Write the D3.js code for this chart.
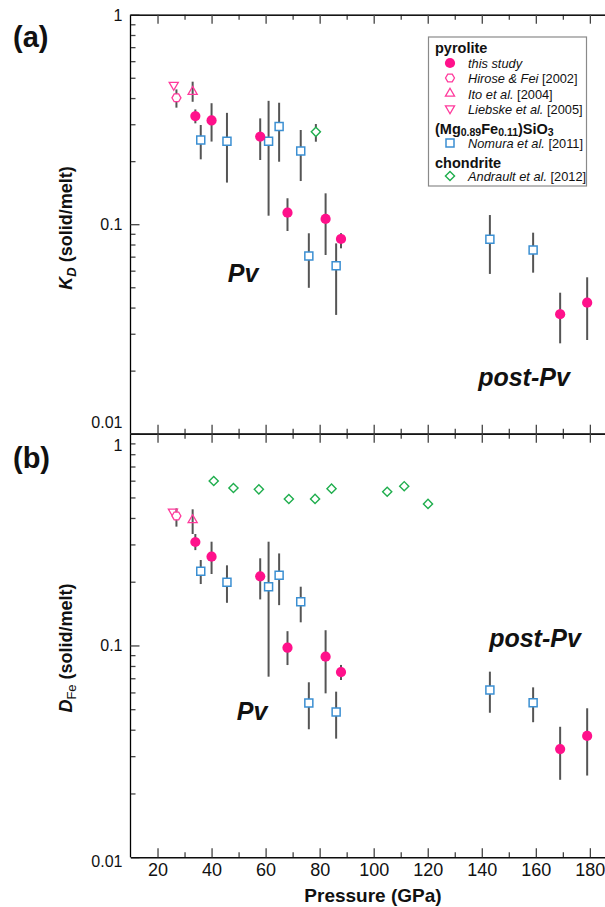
<!DOCTYPE html>
<html>
<head>
<meta charset="utf-8">
<script src="https://cdn.jsdelivr.net/npm/d3@7"></script>
<style>
  body { margin: 0; background: #fff; }
  svg { display: block; font-family: "Liberation Sans", Arial, Helvetica, sans-serif; }
</style>
</head>
<body>
<svg id="chart" width="605" height="907"></svg>
<script>
// ---------- data ----------
// pyrolite, this study (filled circles)
const thisStudyP    = [34, 40, 58, 68.1, 82.2, 87.9, 169, 179];
const thisStudyKd   = [0.328, 0.313, 0.262, 0.1135, 0.106, 0.085, 0.0372, 0.0422];
const thisStudyKdLo = [0.303, 0.248, 0.2025, 0.0928, 0.0713, 0.0767, 0.027, 0.028];
const thisStudyKdHi = [0.353, 0.378, 0.320, 0.133, 0.1404, 0.0906, 0.0471, 0.0558];
const thisStudyD    = [0.308, 0.2625, 0.212, 0.0976, 0.0885, 0.0749, 0.0324, 0.0374];
const thisStudyDLo  = [0.282, 0.2175, 0.165, 0.0808, 0.0594, 0.0687, 0.0232, 0.0243];
const thisStudyDHi  = [0.336, 0.309, 0.258, 0.1168, 0.118, 0.0809, 0.0413, 0.0505];

// pyrolite, earlier studies
const hiroseP = [27], hiroseKd = [0.401], hiroseKdLo = [0.36], hiroseKdHi = [0.44];
const hiroseD = [0.409], hiroseDLo = [0.364], hiroseDHi = [0.444];
const itoP = [33], itoKd = [0.429], itoKdLo = [0.384], itoKdHi = [0.479];
const itoD = [0.391], itoDLo = [0.336], itoDHi = [0.4395];
const liebskeKdP = [26], liebskeKd = [0.462];
const liebskeDP = [25.7], liebskeD = [0.428];

// (Mg0.89Fe0.11)SiO3, Nomura et al. (open squares)
const nomuraP    = [36, 45.7, 61.1, 65, 73, 76, 86.1, 143, 159];
const nomuraKd   = [0.252, 0.249, 0.249, 0.293, 0.2236, 0.0705, 0.0634, 0.0847, 0.0753];
const nomuraKdLo = [0.204, 0.158, 0.1098, 0.1987, 0.1607, 0.0497, 0.0369, 0.0579, 0.0587];
const nomuraKdHi = [0.2975, 0.340, 0.388, 0.380, 0.2816, 0.0905, 0.081, 0.1106, 0.0911];
const nomuraD    = [0.224, 0.1987, 0.1895, 0.2145, 0.161, 0.0535, 0.0485, 0.0616, 0.0537];
const nomuraDLo  = [0.195, 0.159, 0.0712, 0.155, 0.1286, 0.0402, 0.0363, 0.0481, 0.0434];
const nomuraDHi  = [0.2532, 0.239, 0.309, 0.272, 0.1894, 0.067, 0.0605, 0.0752, 0.0634];

// chondrite, Andrault et al. (open diamonds)
const andraultKdP = [78.6], andraultKd = [0.276], andraultKdLo = [0.2476], andraultKdHi = [0.3007];
const andraultDP = [40.8, 48.1, 57.5, 68.6, 78.3, 84.4, 105, 111.3, 120.1];
const andraultD  = [0.598, 0.554, 0.546, 0.4915, 0.492, 0.550, 0.532, 0.565, 0.466];

// axis ticks
const xMajor = [20, 40, 60, 80, 100, 120, 140, 160, 180];
const xMinor = [30, 50, 70, 90, 110, 130, 150, 170];
const yMajor = [0.01, 0.1, 1];
const yMinor = [0.02, 0.03, 0.04, 0.05, 0.06, 0.07, 0.08, 0.09, 0.2, 0.3, 0.4, 0.5, 0.6, 0.7, 0.8, 0.9];

// ---------- styles ----------
const PINK = "#ff118b", PINK_OPEN = "#ff3a9c", BLUE = "#3b8fd2", GREEN = "#20ae4e";
const AXIS = "#444", ERR = "#555";

const svg = d3.select("#chart");
const x = d3.scaleLinear().domain([10, 185.6]).range([130.5, 605]);
const yA = d3.scaleLog().domain([0.01, 1]).range([433.7, 14.7]);
const yB = d3.scaleLog().domain([0.01, 1]).range([857.2, 433.7]);

// hexagon symbol (flat top/bottom, vertices left/right)
const symbolHexagon = {
  draw(ctx, size) {
    const r = Math.sqrt(size / (1.5 * Math.sqrt(3)));
    for (let i = 0; i < 6; i++) {
      const a = i * Math.PI / 3;
      const px = r * Math.cos(a), py = r * Math.sin(a);
      if (i === 0) ctx.moveTo(px, py); else ctx.lineTo(px, py);
    }
    ctx.closePath();
  }
};

const markers = {
  circle:  { path: d3.symbol(d3.symbolCircle, 82)(),   rot: 0,   fill: PINK,  stroke: "none",    sw: 0 },
  hexagon: { path: d3.symbol(symbolHexagon, 52)(),     rot: 0,   fill: "#fff", stroke: PINK_OPEN, sw: 1.3 },
  tri:     { path: d3.symbol(d3.symbolTriangle, 36)(), rot: 0,   fill: "none", stroke: PINK_OPEN, sw: 1.3 },
  itri:    { path: d3.symbol(d3.symbolTriangle, 36)(), rot: 180, fill: "none", stroke: PINK_OPEN, sw: 1.3 },
  square:  { path: d3.symbol(d3.symbolSquare, 64)(),   rot: 0,   fill: "#fff", stroke: BLUE,      sw: 1.5 },
  diamond: { path: d3.symbol(d3.symbolSquare, 42)(),   rot: 45,  fill: "#fff", stroke: GREEN,     sw: 1.4 }
};

function drawMarker(g, kind, cx, cy) {
  const m = markers[kind];
  g.append("path")
    .attr("d", m.path)
    .attr("transform", `translate(${cx},${cy}) rotate(${m.rot})`)
    .attr("fill", m.fill)
    .attr("stroke", m.stroke)
    .attr("stroke-width", m.sw);
}

function drawErrors(g, y, ps, lo, hi) {
  ps.forEach((p, i) => {
    g.append("line")
      .attr("x1", x(p)).attr("x2", x(p))
      .attr("y1", y(lo[i])).attr("y2", y(hi[i]))
      .attr("stroke", ERR).attr("stroke-width", 2);
  });
}

function drawSeries(g, y, kind, ps, vs) {
  ps.forEach((p, i) => drawMarker(g, kind, x(p), y(vs[i])));
}

function styleAxis(sel) {
  sel.select(".domain").attr("stroke", AXIS).attr("stroke-width", 1.4);
  sel.selectAll(".tick line").attr("stroke", AXIS).attr("stroke-width", 1.3);
  sel.selectAll(".tick text").attr("fill", "#111");
}

function drawFrame(y, top, bottom, showXLabels, yLabelShift) {
  // left: major ticks with labels, minor ticks without
  const left = svg.append("g").attr("transform", `translate(${x.range()[0]},0)`);
  left.call(d3.axisLeft(y).tickValues(yMinor).tickSize(-5).tickSizeOuter(0).tickFormat(""));
  left.call(g => g.append("g").call(
    d3.axisLeft(y).tickValues(yMajor).tickSize(-9).tickSizeOuter(0).tickPadding(8)
      .tickFormat(d => d === 1 ? "1" : d === 0.1 ? "0.1" : "0.01")));
  left.selectAll(".tick text")
    .attr("font-size", 16)
    .attr("font-family", "Liberation Sans, Arial, sans-serif")
    .attr("dy", d => (yLabelShift[d] || 0) + 5.5 + "px");
  styleAxis(left);
  left.selectAll(".domain").attr("d", `M0,${y.range()[0]}V${y.range()[1]}`);

  // top edge: inward ticks
  const topAx = svg.append("g").attr("transform", `translate(0,${top})`);
  topAx.call(d3.axisTop(x).tickValues(xMinor).tickSize(-5).tickSizeOuter(0).tickFormat(""));
  topAx.call(g => g.append("g").call(d3.axisTop(x).tickValues(xMajor).tickSize(-9).tickSizeOuter(0).tickFormat("")));
  styleAxis(topAx);

  // bottom edge: inward ticks, labels only on the lowest panel
  const botAx = svg.append("g").attr("transform", `translate(0,${bottom})`);
  botAx.call(d3.axisBottom(x).tickValues(xMinor).tickSize(-5).tickSizeOuter(0).tickFormat(""));
  botAx.call(g => g.append("g").call(
    d3.axisBottom(x).tickValues(xMajor).tickSize(-9).tickSizeOuter(0).tickPadding(6)
      .tickFormat(showXLabels ? d3.format("d") : "")));
  botAx.selectAll(".tick text").attr("font-size", 18).attr("font-family", "Liberation Sans, Arial, sans-serif");
  styleAxis(botAx);
}

// ---------- panel (a): K_D ----------
drawFrame(yA, 14.7, 433.7, false, { 0.01: -12 });
const gA = svg.append("g");
drawErrors(gA, yA, thisStudyP, thisStudyKdLo, thisStudyKdHi);
drawErrors(gA, yA, hiroseP, hiroseKdLo, hiroseKdHi);
drawErrors(gA, yA, itoP, itoKdLo, itoKdHi);
drawErrors(gA, yA, nomuraP, nomuraKdLo, nomuraKdHi);
drawErrors(gA, yA, andraultKdP, andraultKdLo, andraultKdHi);
drawSeries(gA, yA, "square", nomuraP, nomuraKd);
drawSeries(gA, yA, "diamond", andraultKdP, andraultKd);
drawSeries(gA, yA, "itri", liebskeKdP, liebskeKd);
drawSeries(gA, yA, "hexagon", hiroseP, hiroseKd);
drawSeries(gA, yA, "tri", itoP, itoKd);
drawSeries(gA, yA, "circle", thisStudyP, thisStudyKd);

// ---------- panel (b): D_Fe ----------
drawFrame(yB, 433.7, 857.2, true, { 1: 11, 0.01: 4 });
const gB = svg.append("g");
drawErrors(gB, yB, thisStudyP, thisStudyDLo, thisStudyDHi);
drawErrors(gB, yB, hiroseP, hiroseDLo, hiroseDHi);
drawErrors(gB, yB, itoP, itoDLo, itoDHi);
drawErrors(gB, yB, nomuraP, nomuraDLo, nomuraDHi);
drawSeries(gB, yB, "square", nomuraP, nomuraD);
drawSeries(gB, yB, "diamond", andraultDP, andraultD);
drawSeries(gB, yB, "itri", liebskeDP, liebskeD);
drawSeries(gB, yB, "hexagon", hiroseP, hiroseD);
drawSeries(gB, yB, "tri", itoP, itoD);
drawSeries(gB, yB, "circle", thisStudyP, thisStudyD);

// ---------- text annotations ----------
function label(txt, cx, baseline, size, weight, style, anchor) {
  return svg.append("text").attr("x", cx).attr("y", baseline)
    .attr("font-size", size).attr("font-weight", weight || "normal")
    .attr("font-style", style || "normal").attr("text-anchor", anchor || "middle")
    .attr("fill", "#111").text(txt);
}
label("(a)", 13, 47, 29, "bold", "normal", "start");
label("(b)", 13, 468, 29, "bold", "normal", "start");
label("Pv", 243, 282, 25, "bold", "italic");
label("post-Pv", 524, 386, 25, "bold", "italic");
label("Pv", 252, 720, 25, "bold", "italic");
label("post-Pv", 535, 647, 25, "bold", "italic");

// x axis title
label("Pressure (GPa)", 373, 902, 19, "bold");

// y axis titles
const tA = svg.append("text").attr("transform", "translate(72,228) rotate(-90)")
  .attr("text-anchor", "middle").attr("font-size", 18).attr("font-weight", "bold").attr("fill", "#111");
tA.append("tspan").attr("font-style", "italic").text("K");
tA.append("tspan").attr("font-style", "italic").attr("font-size", 13).attr("dy", 4).text("D");
tA.append("tspan").attr("dy", -4).text(" (solid/melt)");

const tB = svg.append("text").attr("transform", "translate(72,648) rotate(-90)")
  .attr("text-anchor", "middle").attr("font-size", 18).attr("font-weight", "bold").attr("fill", "#111");
tB.append("tspan").attr("font-style", "italic").text("D");
tB.append("tspan").attr("font-size", 13).attr("font-weight", "normal").attr("dy", 4).text("Fe");
tB.append("tspan").attr("dy", -4).text(" (solid/melt)");

// ---------- legend ----------
const legendHeads = [
  { text: "pyrolite", y: 53 },
  { text: "chondrite", y: 168 }
];
const legendItems = [
  { kind: "circle",  ital: "this study",      rest: "",        y: 63.5 },
  { kind: "hexagon", ital: "Hirose & Fei",    rest: " [2002]", y: 78.5 },
  { kind: "tri",     ital: "Ito et al.",      rest: " [2004]", y: 94 },
  { kind: "itri",    ital: "Liebske et al.",  rest: " [2005]", y: 109 },
  { kind: "square",  ital: "Nomura et al.",   rest: " [2011]", y: 143.5 },
  { kind: "diamond", ital: "Andrault et al.", rest: " [2012]", y: 176.5 }
];
const lg = svg.append("g");
lg.append("rect").attr("x", 428.5).attr("y", 37).attr("width", 158).attr("height", 149)
  .attr("fill", "#fff").attr("stroke", "#8a8a8a").attr("stroke-width", 1.2);
legendHeads.forEach(h => {
  lg.append("text").attr("x", 435).attr("y", h.y).attr("font-size", 14.5)
    .attr("font-weight", "bold").attr("fill", "#111").text(h.text);
});
const mg = lg.append("text").attr("x", 435).attr("y", 133.5).attr("font-size", 14.5)
  .attr("font-weight", "bold").attr("fill", "#111");
mg.append("tspan").text("(Mg");
mg.append("tspan").attr("font-size", 10.5).attr("dy", 2).text("0.89");
mg.append("tspan").attr("dy", -2).text("Fe");
mg.append("tspan").attr("font-size", 10.5).attr("dy", 2).text("0.11");
mg.append("tspan").attr("dy", -2).text(")SiO");
mg.append("tspan").attr("font-size", 10.5).attr("dy", 2).text("3");
legendItems.forEach(it => {
  drawMarker(lg, it.kind, 450, it.y - 0.5);
  const t = lg.append("text").attr("x", 468).attr("y", it.y + 4.5).attr("font-size", 12.8).attr("fill", "#111");
  t.append("tspan").attr("font-style", "italic").text(it.ital);
  if (it.rest) t.append("tspan").text(it.rest);
});
</script>
</body>
</html>
